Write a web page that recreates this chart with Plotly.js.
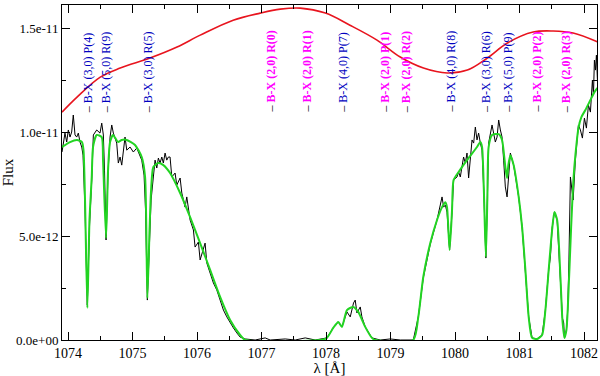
<!DOCTYPE html>
<html>
<head>
<meta charset="utf-8">
<script src="https://cdn.plot.ly/plotly-3.0.1.min.js"></script>
<style>body{margin:0;background:#fff}</style>
</head>
<body>
<div id="spectrum" style="width:600px;height:376px"></div>
<script>
var SPECTRUM = document.getElementById('spectrum');
var fluxUnit = 1e-11; // nilai flux di bawah dalam satuan 1e-11

// spektrum observasi (hitam)
var obsWave = [1073.907,1073.953,1073.980,1074.005,1074.031,1074.057,1074.082,1074.109,1074.135,1074.160,
  1074.186,1074.213,1074.233,1074.264,1074.299,1074.334,1074.368,1074.393,1074.445,1074.496,
  1074.523,1074.548,1074.566,1074.590,1074.621,1074.652,1074.678,1074.703,1074.755,1074.780,
  1074.807,1074.833,1074.884,1074.911,1074.962,1075.013,1075.066,1075.117,1075.143,1075.179,
  1075.202,1075.230,1075.264,1075.288,1075.323,1075.350,1075.376,1075.401,1075.427,1075.454,
  1075.478,1075.505,1075.531,1075.556,1075.582,1075.609,1075.660,1075.686,1075.738,1075.764,
  1075.815,1075.841,1075.893,1075.944,1075.970,1076.021,1076.048,1076.099,1076.125,1076.152,
  1076.203,1076.254,1076.307,1076.358,1076.409,1076.462,1076.513,1076.564,1076.617,1076.668,
  1076.746,1076.901,1077.056,1077.134,1077.367,1077.522,1077.677,1077.832,1078.013,1078.111,
  1078.189,1078.246,1078.324,1078.375,1078.426,1078.452,1078.479,1078.530,1078.556,1078.607,
  1078.711,1078.840,1078.995,1079.151,1079.352,1079.430,1079.507,1079.616,1079.720,1079.771,
  1079.798,1079.823,1079.849,1079.875,1079.915,1079.953,1079.977,1080.030,1080.055,1080.081,
  1080.108,1080.132,1080.159,1080.185,1080.210,1080.236,1080.263,1080.288,1080.314,1080.340,
  1080.365,1080.392,1080.418,1080.446,1080.477,1080.500,1080.520,1080.573,1080.598,1080.624,
  1080.651,1080.676,1080.702,1080.728,1080.753,1080.779,1080.806,1080.831,1080.857,1080.908,
  1080.986,1081.039,1081.090,1081.141,1081.194,1081.271,1081.349,1081.400,1081.451,1081.478,
  1081.504,1081.540,1081.582,1081.633,1081.664,1081.684,1081.695,1081.726,1081.746,1081.765,
  1081.788,1081.830,1081.865,1081.912,1081.943,1081.974,1082.005,1082.036,1082.067,1082.098,
  1082.114,1082.129,1082.145,1082.160,1082.176,1082.191,1082.207];
var obsFlux = [0.904,0.995,0.952,1.010,0.976,1.000,1.082,0.986,0.976,0.995,
  0.952,0.928,0.889,0.625,0.168,0.553,0.769,0.986,1.010,0.995,
  1.043,0.986,0.817,0.481,0.808,0.976,1.034,0.995,0.947,0.851,
  0.880,0.841,0.976,0.913,0.928,0.904,0.923,0.880,0.865,0.793,
  0.625,0.192,0.505,0.673,0.784,0.865,0.827,0.875,0.851,0.880,
  0.851,0.899,0.865,0.880,0.880,0.784,0.803,0.745,0.779,0.707,
  0.639,0.688,0.577,0.529,0.447,0.471,0.385,0.433,0.466,0.370,
  0.322,0.274,0.240,0.192,0.144,0.111,0.082,0.058,0.034,0.014,
  0.005,0.000,0.010,0.000,0.005,0.000,0.010,0.000,0.010,0.058,
  0.087,0.063,0.135,0.111,0.178,0.192,0.130,0.159,0.111,0.063,
  0.010,0.000,0.005,0.000,0.000,0.111,0.298,0.462,0.577,0.659,
  0.688,0.639,0.649,0.615,0.433,0.615,0.769,0.784,0.808,0.784,
  0.827,0.880,0.851,0.899,0.779,0.865,0.962,0.947,1.024,0.962,
  0.995,0.947,0.913,0.712,0.394,0.673,0.947,1.034,0.995,0.952,
  0.976,1.058,1.010,0.976,0.865,0.736,0.688,0.784,0.899,0.841,
  0.688,0.543,0.337,0.111,0.010,0.005,0.024,0.144,0.337,0.399,
  0.538,0.615,0.577,0.303,0.106,0.082,0.010,0.048,0.144,0.385,
  0.784,0.673,0.865,1.034,1.010,0.971,1.067,1.019,1.130,1.096,
  1.202,1.250,1.178,1.346,1.298,1.370,1.250];

// model (hijau)
var modelWave = [1073.907,1074.031,1074.140,1074.217,1074.240,1074.264,1074.300,1074.333,1074.368,1074.388,
  1074.445,1074.523,1074.543,1074.590,1074.621,1074.652,1074.698,1074.776,1074.833,1074.911,
  1075.039,1075.143,1075.195,1075.230,1075.264,1075.288,1075.323,1075.401,1075.478,1075.582,
  1075.738,1075.893,1076.048,1076.203,1076.358,1076.513,1076.668,1076.746,1077.910,1078.013,
  1078.111,1078.189,1078.246,1078.324,1078.421,1078.499,1078.607,1078.711,1078.763,1079.352,
  1079.430,1079.507,1079.616,1079.720,1079.798,1079.849,1079.875,1079.915,1079.953,1079.977,
  1080.055,1080.185,1080.340,1080.392,1080.418,1080.446,1080.477,1080.500,1080.520,1080.573,
  1080.676,1080.728,1080.779,1080.806,1080.826,1080.857,1080.908,1080.986,1081.039,1081.090,
  1081.141,1081.194,1081.271,1081.349,1081.400,1081.451,1081.504,1081.540,1081.582,1081.633,
  1081.664,1081.695,1081.726,1081.746,1081.799,1081.834,1081.865,1081.912,1081.958,1082.020,
  1082.098,1082.160,1082.207];
var modelFlux = [0.928,0.952,0.962,0.952,0.913,0.673,0.154,0.577,0.784,0.928,
  0.986,0.976,0.865,0.490,0.817,0.952,0.986,0.952,0.962,0.962,
  0.938,0.880,0.784,0.202,0.529,0.721,0.832,0.851,0.841,0.803,
  0.707,0.591,0.466,0.337,0.207,0.096,0.024,0.000,0.000,0.010,
  0.058,0.087,0.063,0.144,0.159,0.135,0.063,0.010,0.000,0.000,
  0.111,0.303,0.466,0.577,0.639,0.663,0.639,0.433,0.625,0.769,
  0.808,0.865,0.928,0.952,0.928,0.721,0.399,0.673,0.928,0.986,
  0.990,0.962,0.832,0.779,0.841,0.889,0.841,0.688,0.543,0.337,
  0.111,0.010,0.005,0.024,0.144,0.337,0.529,0.615,0.577,0.303,
  0.096,0.010,0.048,0.144,0.543,0.769,0.889,1.019,1.072,1.106,
  1.154,1.192,1.212];

// kontinum (merah)
var contWave = [1073.907,1074.140,1074.500,1074.810,1075.270,1075.690,1076.050,1076.560,1076.980,1077.290,
  1077.600,1077.990,1078.370,1078.790,1079.150,1079.510,1079.880,1080.190,1080.500,1080.810,
  1081.210,1081.520,1081.830,1082.210];
var contFlux = [1.096,1.168,1.264,1.308,1.356,1.409,1.466,1.538,1.572,1.591,
  1.596,1.572,1.514,1.442,1.361,1.308,1.284,1.298,1.356,1.428,
  1.481,1.486,1.476,1.433];

// identifikasi garis H2
var lineWave = [1074.315,1074.580,1075.245,1077.140,1077.700,1078.260,1078.920,1079.230,1079.930,1080.480,1080.820,1081.270,1081.710];
var lineBand = ['(3,0)','(5,0)','(3,0)','(2,0)','(2,0)','(4,0)','(2,0)','(2,0)','(4,0)','(3,0)','(5,0)','(2,0)','(2,0)'];
var lineBranch = ['P(4)','R(9)','R(5)','R(0)','R(1)','P(7)','P(1)','R(2)','R(8)','R(6)','P(9)','P(2)','R(3)'];

var yTickVals = [0, 0.5, 1.0, 1.5];
var yTickText = ['0.0e+00', '5.0e-12', '1.0e-11', '1.5e-11'];

function scale(arr) { return arr.map(function (v) { return v * fluxUnit; }); }

var data = [
    { x: obsWave, y: scale(obsFlux), mode: 'lines', type: 'scatter', line: { color: '#000000', width: 1 } },
    { x: modelWave, y: scale(modelFlux), mode: 'lines', type: 'scatter', line: { color: '#22d422', width: 2, shape: 'spline', smoothing: 0.6 } },
    { x: contWave, y: scale(contFlux), mode: 'lines', type: 'scatter', line: { color: '#e8141e', width: 1.6, shape: 'spline' } }
];

var annotations = lineWave.map(function (w, i) {
    var main = lineBand[i] === '(2,0)';
    var label = 'B-X ' + lineBand[i] + ' ' + lineBranch[i];
    if (main) label = '<b>' + label + '</b>';
    return {
        x: w, xref: 'x', y: 0.672, yref: 'paper',
        xanchor: 'center', yanchor: 'bottom',
        textangle: -90, showarrow: false,
        text: '<span style="color:#000">–</span> ' + label,
        font: { family: 'Liberation Serif', size: 12, color: main ? '#ff00ff' : '#0000c0' }
    };
});

var axisStyle = {
    showline: true, linecolor: '#000', linewidth: 1, mirror: 'allticks',
    ticks: 'inside', ticklen: 8, tickcolor: '#000', showgrid: false, zeroline: false
};

var layout = {
    width: 600, height: 376,
    margin: { l: 62, r: 3, t: 5, b: 36 },
    paper_bgcolor: '#fff', plot_bgcolor: '#fff',
    showlegend: false,
    font: { family: 'Liberation Serif', color: '#000' },
    xaxis: Object.assign({}, axisStyle, {
        range: [1073.907, 1082.2], dtick: 1, tick0: 1074,
        tickfont: { size: 14 },
        minor: { ticks: 'inside', ticklen: 4, dtick: 0.5, tickcolor: '#000' },
        title: { text: 'λ [Å]', font: { size: 15 }, standoff: 2 }
    }),
    yaxis: Object.assign({}, axisStyle, {
        range: [0, 1.611e-11],
        tickvals: scale(yTickVals), ticktext: yTickText,
        tickfont: { size: 13 },
        minor: { ticks: 'inside', ticklen: 4, dtick: 0.25e-11, tickcolor: '#000' },
        title: { text: 'Flux', font: { size: 15 }, standoff: 4 }
    }),
    annotations: annotations
};

Plotly.newPlot(SPECTRUM, data, layout, { staticPlot: true });
</script>
</body>
</html>
